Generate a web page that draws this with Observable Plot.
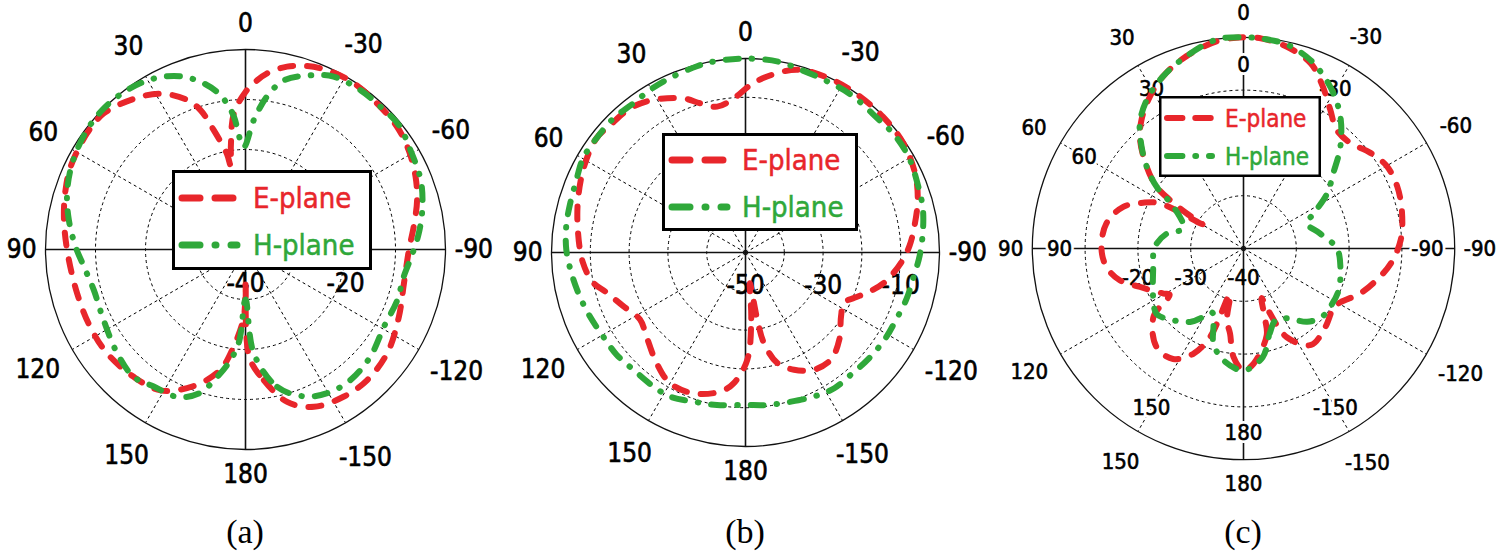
<!DOCTYPE html>
<html><head><meta charset="utf-8">
<script src="https://cdn.jsdelivr.net/npm/d3@7"></script>
<script src="https://cdn.jsdelivr.net/npm/@observablehq/plot@0.6"></script>
<style>
body{margin:0;background:#fff;}
#wrap{position:relative;width:1500px;height:560px;overflow:hidden;background:#fff;}
.panel{position:absolute;top:0;}
.cap{position:absolute;top:512px;font-family:"Liberation Serif","Times New Roman",serif;font-size:34px;line-height:40px;transform:translateX(-50%);color:#000;}
</style></head><body><div id="wrap"></div>
<script>
// ---------------- data ----------------
const angleTicks = [0, 30, 60, 90, 120, 150, 180, -150, -120, -90, -60, -30];
const spokeAngles = [30, 60, 120, 150, -150, -120, -60, -30];
const axisAngles = [0, 90];
const legendItems = ["E-plane", "H-plane"];
const captions = ["(a)", "(b)", "(c)"];

// panel (a)
const aRings = [-30, -20, -10];
const aRadialTicks = [-40, -20];
const aE_angle = [-178,-172,-164.7,-156.5,-146,-137,-126,-113.7,-102,-90,-82,-74,-66.8,-58.7,-51,-42,-33,-24.5,-18.6,-12.8,-7,-3.9,0,4.9,8,10,11,14.9,17.9,21.3,28.6,36.5,46.2,53.8,64.7,71.8,79.8,90,104.6,116.5,126.9,138.7,148.9,159,168,173,178.6,180];
const aE_dB    = [-18.5,-13.6,-8.4,-5.7,-4.6,-4.3,-4.9,-6.5,-7.6,-7.3,-6,-4.3,-3,-1.8,-1.0,-0.7,-0.3,-0.6,-1.3,-2.5,-4.5,-6.1,-8.5,-12.7,-19,-23,-20.5,-15.3,-10.7,-7.9,-4.5,-2.5,-0.7,-0.7,-1.3,-2.1,-3.1,-4.3,-5.2,-5.3,-5.4,-6.1,-7.1,-10.7,-15.3,-20.4,-26.5,-33];
const aH_angle = [-175.4,-167,-158,-150,-141,-130.6,-119,-108.5,-99.8,-92,-84.7,-77,-68.4,-59,-51,-43.4,-35.8,-27,-20.5,-12.8,-8,-3.7,1,5,7.2,10.2,15,20.6,28.2,36.6,44.8,53,63.6,72.6,80.6,89,96,105,116.5,129,138.7,146,155,162,167.5,172.3,176,180];
const aH_dB    = [-19.1,-11.8,-8.3,-6.9,-6.5,-7.1,-8.3,-8.0,-7.9,-6.7,-5.2,-3.7,-2.3,-1.5,-0.5,-0.7,-0.7,-1.2,-2.8,-5.3,-9.1,-14,-19.5,-13.3,-10.6,-8,-5.3,-3,-1.2,-0.3,0,-0.3,-1.3,-2.6,-4.2,-6,-7.5,-8.6,-8.3,-7,-6.1,-7,-7.5,-9.7,-13.9,-17.7,-21.5,-30];

// panel (b)
const bRings = [-40, -30, -20, -10];
const bRadialTicks = [-50, -30, -10];
const bE_angle = [-179,-175,-172,-170,-168.5,-164,-157.5,-149.6,-141.4,-132.9,-123.7,-117,-112.6,-108,-102,-93.7,-87.7,-81,-72.7,-64.6,-54.9,-45.3,-34.9,-25.9,-15.9,-7,-1.7,4.4,11,16.9,21.9,31.6,38.7,46.8,52.6,61.6,72.3,83,93.5,101,106,113.7,122.4,130,141,150,159.7,169.8,174.9];
const bE_dB    = [-22.4,-33,-42,-32,-26.2,-20.4,-17.3,-15,-14.7,-17,-20.4,-21.5,-19.6,-16.8,-13.3,-9.8,-7.7,-5.9,-3.5,-1.7,-0.5,-0.2,-0.1,-0.2,-1,-4.3,-6.8,-10.2,-11.7,-9.8,-7.2,-3.9,-2.4,-2.1,-1.6,-2.8,-4.7,-6.5,-8,-9.9,-12.7,-15.6,-17.8,-16.6,-13.5,-11.1,-11.3,-13.6,-16.2];
const bH_angle = [-171.9,-163,-154.5,-146.8,-139,-131,-122,-114,-106,-99,-91,-83.5,-76,-68.8,-60,-51.8,-44.6,-33.8,-24.5,-16.8,-10,0,9.3,14.6,23.4,30.4,37,44.6,52.6,60,67,75,81.5,89,96.6,104.7,112,120.5,128.4,136.3,145.5,152.4,160.8,169.4,180];
const bH_dB    = [-10.3,-9.8,-8.9,-8.2,-8.4,-8.1,-7.7,-7.5,-6.8,-6.3,-5.1,-4,-2.9,-2.3,-1.3,-1.1,-1.5,-1.1,-1.1,-0.8,-0.1,0,-0.1,-0.4,-1,-1.4,-1.9,-1.5,-1.6,-1.6,-2.6,-3.1,-3.3,-3.8,-4.8,-5.8,-6.6,-7.4,-7.6,-8.2,-8.1,-8.1,-9.3,-10,-10.7];

// panel (c)
const cRings = [-30, -20, -10];
const cRadialTicks = [-40, -30, -20];
const cInnerTicks = [0, 30, 60, 90, 150, 180, -150, -90, -30];
const cE_angle = [-175,-165,-163,-160,-158,-154,-145,-134,-123,-119,-111,-103,-96,-87,-77,-68,-60,-53,-45,-38,-32,-26,-20,-12,-5,0,7,16.5,25,31.6,38.4,43.6,49.8,54.6,56.6,58.3,59.5,61.6,65.5,70.9,79.6,90,97.6,104.4,110.4,119.4,122,127.2,138.6,147.5,154.5,159.3,163.5,167,171,174.7,180];
const cE_dB    = [-18.1,-23,-26,-30,-27,-21.3,-17.7,-18.5,-19.6,-19,-16.3,-14,-12,-10.2,-9.2,-8.6,-8.7,-9.9,-11.6,-11.4,-9,-5.8,-2.7,-0.9,-0.1,0,-0.4,-2,-4,-6.2,-8.9,-11.6,-16,-19.8,-23.3,-27.3,-31,-22,-19.1,-15.9,-13.6,-13.1,-13.8,-15.8,-19.1,-22.6,-23.5,-18.6,-15.1,-15.2,-17.9,-22.1,-31,-26,-23.7,-19.4,-16.9];
const cH_angle = [-170,-163,-156,-148,-139,-131,-124,-114,-101,-90,-79,-68.5,-63.4,-56.6,-50,-43.6,-36.3,-30,-25,-19.5,-12,-5,0,7.3,16.5,25,33,39.6,45,49.8,54.6,59.2,71.6,79,89,103.5,120,127,135.7,144,149.7,154,158.6,162.5,169.8,180];
const cH_dB    = [-19.1,-23.1,-25.1,-24.4,-21.6,-20.3,-20.2,-20.3,-21.3,-22.3,-25.2,-27.1,-25.1,-21,-17.8,-13.4,-9,-6,-4,-2.1,-0.5,-0.1,0,-0.1,-2,-4,-6.4,-9.2,-12.7,-16,-19.8,-24.6,-28,-25.2,-23.2,-22.4,-20.3,-19.4,-21,-22.8,-25,-26.5,-24.4,-21.1,-18.5,-16.9];

// ---------------- style ----------------
const RED = "#e8262b", GREEN = "#2fa83a";
const FONT = "'DejaVu Sans Condensed', 'DejaVu Sans', sans-serif";

const panels = [
  {left: 0,    W: 500, H: 505, cx: 245, cy: 249, k: 5.0,  min: -40, rings: aRings, radial: aRadialTicks, radialAngle: -90, radialDy: 34, fs: 26,
   E: [aE_angle, aE_dB], Hs: [aH_angle, aH_dB], inner: null,
   legend: {left: 172, top: 170, w: 200, h: 100, b: 3, fs: 29, yE: 28, yH: 75, x1: 10, x2: 65, xt: 81, lw: 7}},
  {left: 500,  W: 500, H: 505, cx: 245, cy: 252, k: 3.88, min: -50, rings: bRings, radial: bRadialTicks, radialAngle: -90, radialDy: 33, fs: 26,
   E: [bE_angle, bE_dB], Hs: [bH_angle, bH_dB], inner: null,
   legend: {left: 662, top: 133, w: 196, h: 98, b: 3, fs: 29, yE: 27, yH: 74, x1: 10, x2: 65, xt: 80, lw: 7}},
  {left: 1000, W: 500, H: 505, cx: 243, cy: 248, k: 5.28, min: -40, rings: cRings, radial: cRadialTicks, radialAngle: 90, radialDy: 29, fs: 22,
   E: [cE_angle, cE_dB], Hs: [cH_angle, cH_dB], inner: cInnerTicks,
   legend: {left: 1159, top: 96, w: 162, h: 81, b: 2.5, fs: 24, yE: 22, yH: 60, x1: 8, x2: 53, xt: 66, lw: 6}}
];

const rad = a => a * Math.PI / 180;
const px = (a, r) => -r * Math.sin(rad(a));
const py = (a, r) => r * Math.cos(rad(a));

function labelWidth(s, fs) {
  let w = 0;
  for (const ch of s) w += ch === "-" ? 0.34 : 0.572;
  return w * fs;
}

function panelPlot(p) {
  const span = -p.min;
  const R = span * p.k;
  const toRow = ([ang, vals]) => ang.map((a, i) => ({a, r: Math.max(0, vals[i] - p.min)}));
  const E = toRow(p.E), H = toRow(p.Hs);
  const outerR = d => {
    const s = String(d), w = labelWidth(s, p.fs), h = 0.73 * p.fs;
    const sn = Math.abs(Math.sin(rad(d))), cs = Math.abs(Math.cos(rad(d)));
    return (R + 9 * sn + 16 * cs + w / 2 * sn + h / 2 * cs) / p.k;
  };
  const txt = {fontSize: p.fs, fontFamily: FONT, fill: "#000", stroke: "#000", strokeWidth: 0.6};
  const marks = [
    Plot.dot(p.rings, {x: () => 0, y: () => 0, r: d => (d - p.min) * p.k, fill: "none", stroke: "#000", strokeWidth: 1, strokeDasharray: "3,3"}),
    Plot.link(spokeAngles, {x1: () => 0, y1: () => 0, x2: d => px(d, span), y2: d => py(d, span), stroke: "#000", strokeWidth: 1, strokeDasharray: "3,3"}),
    Plot.link(axisAngles, {x1: d => px(d, span), y1: d => py(d, span), x2: d => px(d + 180, span), y2: d => py(d + 180, span), stroke: "#111", strokeWidth: 1.6}),
    Plot.dot([0], {x: () => 0, y: () => 0, r: () => R, fill: "none", stroke: "#111", strokeWidth: 1.3}),
    Plot.text(angleTicks, {x: d => px(d, outerR(d)), y: d => py(d, outerR(d)), text: d => String(d), ...txt}),
    Plot.text(p.radial, {x: d => px(p.radialAngle, d - p.min), y: () => 0, dy: p.radialDy, text: d => String(d), ...txt})
  ];
  if (p.inner) {
    const ir = 184 / p.k;
    marks.push(Plot.text(p.inner, {x: d => px(d, ir), y: d => py(d, ir), text: d => String(d), fontSize: p.fs, fontFamily: FONT, fill: "#fff", stroke: "#fff", strokeWidth: 6}));
    marks.push(Plot.text(p.inner, {x: d => px(d, ir), y: d => py(d, ir), text: d => String(d), ...txt}));
  }
  marks.push(
    Plot.line(E, {x: d => px(d.a, d.r), y: d => py(d.a, d.r), stroke: RED, strokeWidth: 6, strokeDasharray: "13,14", strokeLinecap: "round", curve: "catmull-rom-closed"}),
    Plot.line(H, {x: d => px(d.a, d.r), y: d => py(d.a, d.r), stroke: GREEN, strokeWidth: 6, strokeDasharray: "13,13,0.5,13", strokeLinecap: "round", curve: "catmull-rom-closed"})
  );
  return Plot.plot({
    width: p.W, height: p.H, margin: 0,
    x: {domain: [-p.cx / p.k, (p.W - p.cx) / p.k], range: [0, p.W], axis: null},
    y: {domain: [-(p.H - p.cy) / p.k, p.cy / p.k], range: [p.H, 0], axis: null},
    r: {type: "identity"},
    style: {background: "transparent", overflow: "visible"},
    marks
  });
}

function makeLegend(o) {
  const svg = d3.create("svg").attr("width", o.w).attr("height", o.h)
    .style("position", "absolute").style("left", o.left + "px").style("top", o.top + "px");
  svg.append("rect").attr("x", o.b / 2).attr("y", o.b / 2).attr("width", o.w - o.b).attr("height", o.h - o.b)
    .attr("fill", "#fff").attr("stroke", "#000").attr("stroke-width", o.b);
  legendItems.forEach((name, i) => {
    const y = i === 0 ? o.yE : o.yH;
    const col = i === 0 ? RED : GREEN;
    const sc = o.lw / 7;
    svg.append("line").attr("x1", o.x1).attr("x2", o.x2).attr("y1", y).attr("y2", y)
      .attr("stroke", col).attr("stroke-width", o.lw).attr("stroke-linecap", "round")
      .attr("stroke-dasharray", i === 0 ? `${18*sc},${15*sc}` : `${18*sc},${15*sc},${1*sc},${15*sc}`);
    svg.append("text").attr("x", o.xt).attr("y", y).attr("dy", "0.36em")
      .attr("fill", col).attr("stroke", col).attr("stroke-width", 0.5)
      .attr("font-family", FONT).attr("font-size", o.fs).text(name);
  });
  return svg.node();
}

const wrap = document.getElementById("wrap");
panels.forEach((p, i) => {
  const div = document.createElement("div");
  div.className = "panel";
  div.style.left = p.left + "px";
  div.appendChild(panelPlot(p));
  wrap.appendChild(div);
  wrap.appendChild(makeLegend(p.legend));
  const cap = document.createElement("div");
  cap.className = "cap";
  cap.style.left = (p.left + p.cx) + "px";
  cap.textContent = captions[i];
  wrap.appendChild(cap);
});
</script>
</body></html>
